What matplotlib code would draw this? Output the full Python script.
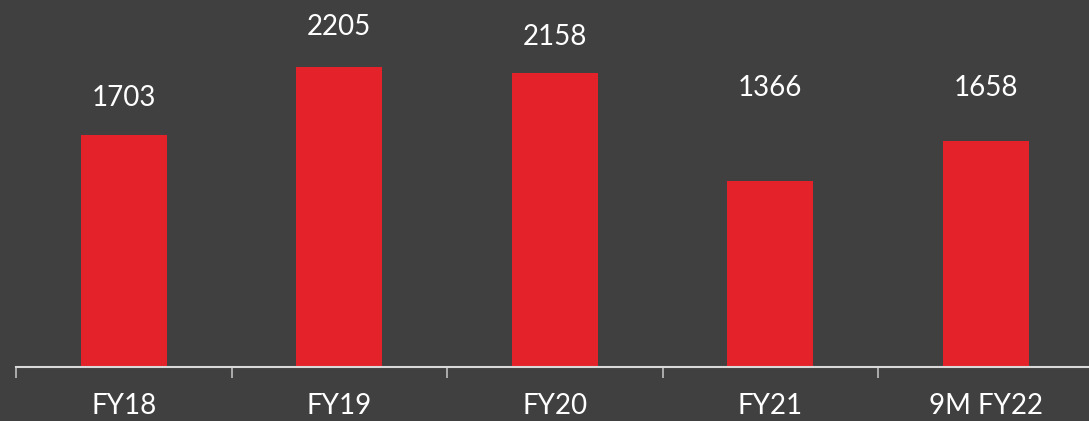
import matplotlib
matplotlib.use("Agg")
import matplotlib.pyplot as plt
import numpy as np

categories = ["FY18", "FY19", "FY20", "FY21", "9M FY22"]
values = [1703, 2205, 2158, 1366, 1658]
label_offsets = [272, 291, 265, 682, 390]  # label placement above bar (data units)

BG = "#404040"
RED = "#E32229"
AXIS = "#D9D9D9"

plt.rcParams['font.family'] = ['Lato', 'DejaVu Sans']

W, H = 1089, 421
fig = plt.figure(figsize=(W / 100, H / 100), dpi=100, facecolor=BG)
ax = fig.add_axes([16 / W, 54 / H, 1077.5 / W, 367 / H], facecolor=BG)

x = np.arange(len(categories))
ax.bar(x, values, width=0.4, color=RED, zorder=2)

for xi, v, off in zip(x, values, label_offsets):
    ax.text(xi, v + off, str(v), ha="center", va="center", color="white", fontsize=20)

ax.set_xlim(-0.5, len(categories) - 0.5)
ax.set_ylim(0, 2694)
ax.set_yticks([])
for s in ["left", "right", "top"]:
    ax.spines[s].set_visible(False)
ax.spines["bottom"].set_color(AXIS)
ax.spines["bottom"].set_linewidth(1.5)

ax.set_xticks(x)
ax.set_xticklabels(categories, color="white", fontsize=20)
ax.tick_params(axis="x", which="major", length=0, pad=19)
ax.set_xticks(np.arange(len(categories) + 1) - 0.5, minor=True)
ax.tick_params(axis="x", which="minor", length=8, width=1.2, color="#BFBFBF")

fig.savefig("out.png", dpi=100, facecolor=BG)
